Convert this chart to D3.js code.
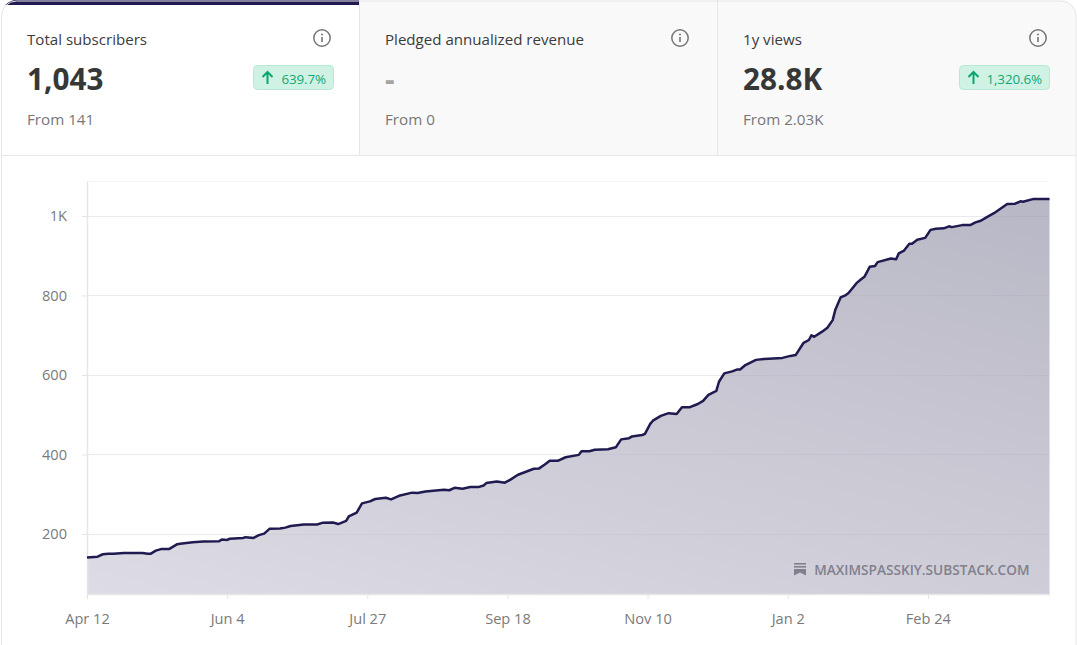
<!DOCTYPE html>
<html><head><meta charset="utf-8">
<script src="https://cdn.jsdelivr.net/npm/d3@7"></script>
<style>
html,body{margin:0;padding:0;background:#fff;overflow:hidden}
svg{display:block}
text{font-family:"Open Sans","Noto Sans",sans-serif}
</style></head><body>
<svg id="c" width="1077" height="645"></svg>
<script>
const days = [0,4,6,8,10,14,21,23,24,26,28,31,34,36,40,44,50,51,53,54,59,60,63,65,67,69,73,75,77,82,87,89,93,95,98,99,102,104,107,109,113,115,118,123,125,128,135,137,139,142,145,148,150,151,155,158,160,163,167,169,171,173,175,178,181,186,187,190,192,197,200,202,205,206,210,211,213,214,217,220,223,225,228,231,233,235,238,239,241,244,246,247,249,253,256,263,266,268,271,273,274,275,278,280,282,283,285,287,288,291,293,294,296,298,299,304,306,307,309,311,312,314,317,319,321,324,326,327,331,334,336,338,340,343,348,351,353,354,358,364];
const subscribers = [141,143,149,150,150,152,152,150,150,158,162,162,174,176,179,181,182,186,185,188,190,192,190,197,201,213,214,216,220,224,224,228,229,225,233,244,254,277,282,288,291,287,296,304,303,307,311,310,316,314,318,318,322,328,332,329,336,349,359,364,365,374,384,384,393,399,408,408,412,413,418,438,441,445,449,452,477,485,497,504,502,519,519,527,535,550,560,583,604,609,614,614,625,638,640,643,648,650,681,688,700,696,709,719,738,764,795,801,806,831,842,847,872,874,884,893,891,906,913,930,930,940,945,965,968,969,974,972,977,977,984,988,996,1007,1030,1031,1037,1036,1043,1043];
const xTickDays = [0,53,106,159,212,265,318];
const xTickLabels = ["Apr 12","Jun 4","Jul 27","Sep 18","Nov 10","Jan 2","Feb 24"];
const yTicks = [200,400,600,800,1000];
const yTickLabels = ["200","400","600","800","1K"];
const cardTitles = ["Total subscribers","Pledged annualized revenue","1y views"];
const cardValues = ["1,043","-","28.8K"];
const cardFrom = ["From 141","From 0","From 2.03K"];
const cardChange = ["639.7%",null,"1,320.6%"];

const svg = d3.select("#c");
const W = 1077, H = 645;
const defs = svg.append("defs");
const cardPath = "M1.5,645 V16 A15,15 0 0 1 16.5,1 H1061 A15,15 0 0 1 1076,16 V645";
defs.append("clipPath").attr("id","cardClip").append("path").attr("d","M1.5,645 V16 A15,15 0 0 1 16.5,0 H1061 A15,15 0 0 1 1076,16 V645 Z");
const g0 = defs.append("linearGradient").attr("id","areaGrad").attr("gradientUnits","userSpaceOnUse")
  .attr("x1",87).attr("y1",594).attr("x2",254).attr("y2",-18);
g0.append("stop").attr("offset","0").attr("stop-color","#dddce4");
g0.append("stop").attr("offset","1").attr("stop-color","#b8b7c5");

// tabs
const tabs = svg.append("g").attr("clip-path","url(#cardClip)");
tabs.append("rect").attr("x",359.5).attr("y",0).attr("width",718).attr("height",155).attr("fill","#f9f9f9");
tabs.append("rect").attr("x",0).attr("y",0).attr("width",359).attr("height",5).attr("fill","#1f1a4f");
[359.5,717.5].forEach(x=>tabs.append("line").attr("x1",x).attr("x2",x).attr("y1",0).attr("y2",155).attr("stroke","#e6e6e6"));
tabs.append("line").attr("x1",0).attr("x2",W).attr("y1",155.5).attr("y2",155.5).attr("stroke","#e6e6e6");
svg.append("path").attr("d",cardPath).attr("fill","none").attr("stroke","#e6e6e6").attr("stroke-width",1);

cardTitles.forEach((t,i)=>{
  const x0 = [27,385,743][i];
  const g = svg.append("g");
  g.append("text").attr("x",x0).attr("y",45).attr("font-size",15.1).attr("fill","#3b3b3b").text(t);
  g.append("text").attr("x",x0).attr("y",90).attr("font-size",29.7).attr("font-weight",700).attr("fill", i==1?"#a3a3a3":"#363737").text(cardValues[i]);
  g.append("text").attr("x",x0).attr("y",125).attr("font-size",15.2).attr("fill","#777").text(cardFrom[i]);
  const ix = [322,680,1038][i];
  const info = g.append("g").attr("transform",`translate(${ix},38)`);
  info.append("circle").attr("r",8.2).attr("fill","none").attr("stroke","#757575").attr("stroke-width",1.5);
  info.append("line").attr("x1",0).attr("x2",0).attr("y1",-1).attr("y2",4).attr("stroke","#757575").attr("stroke-width",1.6);
  info.append("circle").attr("cy",-3.6).attr("r",1).attr("fill","#757575");
  if(cardChange[i]){
    const bx = [253.5,0,959.5][i], bw = [80,0,90][i];
    g.append("rect").attr("x",bx).attr("y",65.5).attr("width",bw).attr("height",24).attr("rx",4)
      .attr("fill","#d0f2e5").attr("stroke","#b5e9d3");
    const ax = bx+14;
    g.append("path").attr("d",`M${ax},84 V72.5 M${ax-5},77 L${ax},72 L${ax+5},77`).attr("fill","none").attr("stroke","#0aa66e").attr("stroke-width",2);
    g.append("text").attr("x",bx+bw-7.5).attr("y",84).attr("text-anchor","end").attr("font-size",13.4).attr("letter-spacing",-0.1).attr("fill","#11a874").text(cardChange[i]);
  }
});

// chart
const x = d3.scaleLinear().domain([0,364]).range([87,1049.5]);
const y = d3.scaleLinear().domain([49,1088]).range([594,181]);

svg.append("line").attr("x1",87).attr("x2",1049).attr("y1",y(1088)+.5).attr("y2",y(1088)+.5).attr("stroke","#f4f4f4");

const pts = days.map((d,i)=>[d,subscribers[i]]);
const area = d3.area().x(d=>x(d[0])).y0(y(49)).y1(d=>y(d[1])).curve(d3.curveLinear);
const line = d3.line().x(d=>x(d[0])).y(d=>y(d[1])).curve(d3.curveLinear);

yTicks.forEach(v=>{
  svg.append("line").attr("x1",87).attr("x2",1049).attr("y1",Math.round(y(v))+.5).attr("y2",Math.round(y(v))+.5)
    .attr("stroke","#f2f2f2");
});
svg.append("path").attr("d",area(pts)).attr("fill","url(#areaGrad)");
yTicks.forEach(v=>{
  svg.append("line").attr("x1",87).attr("x2",1049).attr("y1",Math.round(y(v))+.5).attr("y2",Math.round(y(v))+.5)
    .attr("stroke","#5b5870").attr("stroke-opacity",0.05);
});

const axL = svg.append("g").attr("transform","translate(87,0)")
  .call(d3.axisLeft(y).tickValues(yTicks).tickFormat((d,i)=>yTickLabels[i]).tickSize(5).tickSizeOuter(0).tickPadding(15));
const axB = svg.append("g").attr("transform","translate(0,594)")
  .call(d3.axisBottom(x).tickValues(xTickDays).tickFormat((d,i)=>xTickLabels[i]).tickSize(5).tickSizeOuter(0).tickPadding(15));
[axL,axB].forEach(a=>{
  a.select(".domain").attr("stroke","#e6e6e6").attr("stroke-width",1.5);
  a.selectAll(".tick line").attr("stroke","#e4e4e4");
  a.selectAll("text").attr("font-size",14.6).attr("fill","#7a7a7a").style("font-family",'"Open Sans","Noto Sans",sans-serif');
});

svg.append("path").attr("d",line(pts)).attr("fill","none").attr("stroke","#1f1a4f").attr("stroke-width",2.5).attr("stroke-linejoin","round");

// watermark
const wm = svg.append("g").attr("fill","#81808c");
wm.append("rect").attr("x",794).attr("y",563).attr("width",12).attr("height",1.6);
wm.append("rect").attr("x",794).attr("y",566).attr("width",12).attr("height",1.6);
wm.append("path").attr("d","M794,569 H806 V575.5 L800,572.5 L794,575.5 Z");
wm.append("text").attr("x",1029.5).attr("y",575).attr("text-anchor","end").attr("font-size",13.65).attr("font-weight",600).text("MAXIMSPASSKIY.SUBSTACK.COM");
</script>
</body></html>
